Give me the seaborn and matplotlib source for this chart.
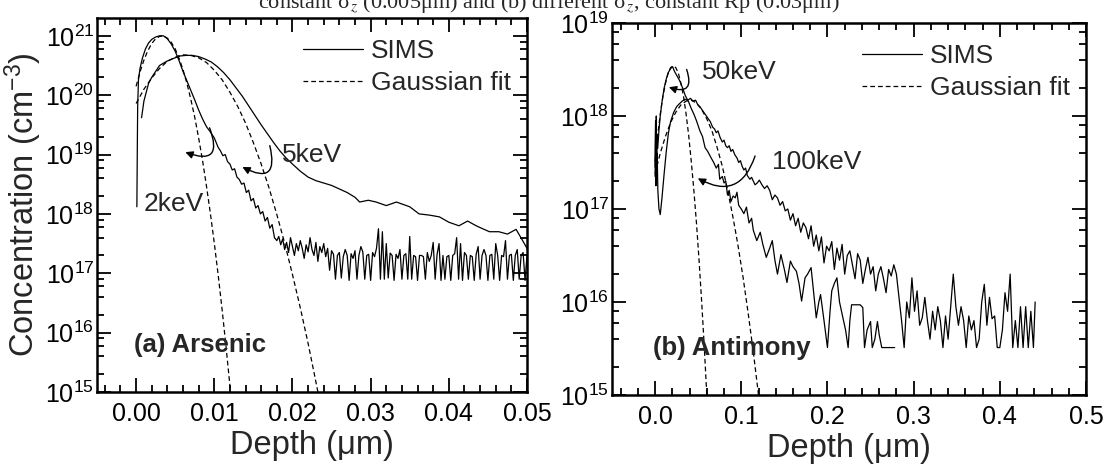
import numpy as np
import pandas as pd
import matplotlib
matplotlib.use("Agg")
import matplotlib.pyplot as plt
import seaborn as sns
from matplotlib.ticker import LogLocator, MultipleLocator, FormatStrFormatter, NullFormatter
from matplotlib.lines import Line2D

# ---------------- data (log10 of concentration, cm^-3) ----------------
# (a) Arsenic 2 keV SIMS: smooth part (depth um, log10 C)
as2_sims_main = [
    (0.0001, 18.12), (0.00015, 19.0), (0.0002, 19.8), (0.0003, 20.25), (0.0005, 20.45),
    (0.0008, 20.62), (0.0012, 20.78), (0.0016, 20.88), (0.002, 20.94), (0.0025, 20.98),
    (0.003, 21.0), (0.0035, 21.0), (0.004, 20.95), (0.0045, 20.86), (0.005, 20.74),
    (0.0055, 20.58), (0.006, 20.4), (0.0065, 20.24), (0.007, 20.08), (0.0075, 19.92),
    (0.008, 19.75), (0.0085, 19.6), (0.009, 19.47), (0.0095, 19.38), (0.010, 19.28),
    (0.0105, 19.12), (0.0108, 19.06), (0.0111, 18.98), (0.0114, 19.0), (0.0117, 18.88),
    (0.012, 18.84), (0.0123, 18.74), (0.0126, 18.76), (0.0129, 18.62), (0.0132, 18.58),
    (0.0135, 18.5), (0.0138, 18.52), (0.0141, 18.36), (0.0144, 18.4), (0.0147, 18.22),
    (0.015, 18.26), (0.0153, 18.1), (0.0156, 18.14), (0.0159, 18.0), (0.0162, 18.04),
    (0.0165, 17.88), (0.0168, 17.94), (0.0171, 17.76), (0.0174, 17.82), (0.0177, 17.6),
]
# 2 keV SIMS noise floor, sampled every 0.00025 um from 0.018 to 0.05
as2_floor_start, as2_floor_end = 0.018, 0.05
as2_floor_log = [
    17.55, 17.62, 17.48, 17.58, 17.4, 17.52, 17.35, 17.6, 17.45, 17.3,
    17.5, 17.38, 17.55, 17.42, 17.25, 17.48, 17.36, 17.6, 17.4, 17.3,
    17.52, 17.2, 17.45, 17.35, 17.5, 17.28, 17.42, 17.05, 17.38,
    17.32, 16.9, 17.3, 17.35, 16.92, 17.28, 17.4, 17.3, 16.88, 17.33,
    17.25, 17.38, 16.9, 17.3, 17.45, 17.36, 16.9, 17.3, 17.32, 16.88,
    17.35, 17.28, 17.42, 17.75, 16.9, 17.7, 16.9, 17.5, 16.92, 17.34,
    17.3, 16.88, 17.32, 17.25, 17.4, 16.9, 17.3, 17.33, 16.9, 17.62,
    16.9, 17.3, 17.28, 16.88, 17.3, 17.3, 17.28, 16.9, 17.35, 17.2,
    17.3, 17.52, 16.9, 17.32, 17.5, 16.88, 17.3, 16.9, 17.28, 17.3,
    16.88, 17.3, 17.33, 17.6, 16.9, 17.5, 16.88, 17.35, 17.3, 16.9,
    17.3, 17.28, 16.88, 17.32, 17.45, 16.9, 17.3, 17.4, 17.3, 16.88,
    17.3, 17.32, 16.9, 17.5, 17.3, 16.88, 17.3, 17.28, 17.55, 16.9,
    17.3, 17.32, 16.88, 17.3, 17.4, 16.9, 17.3, 17.35, 16.88, 17.3,
]
# (a) Arsenic 5 keV SIMS
as5_sims = [
    (0.0007, 19.62), (0.001, 19.9), (0.0016, 20.2), (0.002, 20.3), (0.0026, 20.42),
    (0.003, 20.5), (0.0039, 20.57), (0.0048, 20.62), (0.0056, 20.66), (0.0064, 20.67),
    (0.0072, 20.67), (0.008, 20.65), (0.0088, 20.61), (0.0096, 20.56), (0.0104, 20.48),
    (0.0112, 20.38), (0.012, 20.26), (0.0128, 20.12), (0.0136, 19.98), (0.0144, 19.82),
    (0.0152, 19.66), (0.016, 19.5), (0.0168, 19.35), (0.0176, 19.2), (0.0184, 19.06),
    (0.0192, 18.94), (0.02, 18.84), (0.021, 18.72), (0.022, 18.62), (0.023, 18.56),
    (0.024, 18.52), (0.025, 18.48), (0.026, 18.42), (0.027, 18.36), (0.028, 18.28),
    (0.0286, 18.2), (0.0297, 18.23), (0.0307, 18.2), (0.032, 18.14), (0.0333, 18.2),
    (0.035, 18.12), (0.0362, 18.0), (0.0375, 17.98), (0.0388, 17.95), (0.04, 17.86),
    (0.0413, 17.8), (0.0424, 17.88), (0.0435, 17.8), (0.0445, 17.74), (0.0452, 17.7),
    (0.0464, 17.7), (0.0475, 17.66), (0.0486, 17.74), (0.0494, 17.56), (0.05, 17.42),
]
# (a) Gaussian fits
as2_fit_x = [0.0, 0.0005, 0.001, 0.0015, 0.002, 0.0025, 0.003, 0.0035, 0.004, 0.0045,
             0.005, 0.0055, 0.006, 0.0065, 0.007, 0.0075, 0.008, 0.0085, 0.009, 0.0095,
             0.010, 0.0105, 0.011, 0.0115, 0.012, 0.0125]
as2_fit_log = [20.15, 20.39, 20.59, 20.75, 20.87, 20.95, 20.99, 21.0, 20.96, 20.89,
               20.78, 20.62, 20.43, 20.2, 19.93, 19.63, 19.28, 18.9, 18.47, 18.01,
               17.51, 16.97, 16.39, 15.77, 15.11, 14.41]
as5_fit_x = [0.0, 0.001, 0.002, 0.003, 0.004, 0.005, 0.006, 0.007, 0.008, 0.009,
             0.010, 0.011, 0.012, 0.013, 0.014, 0.015, 0.016, 0.017, 0.018, 0.019,
             0.020, 0.021, 0.022, 0.023, 0.024]
as5_fit_log = [19.86, 20.10, 20.29, 20.45, 20.57, 20.64, 20.68, 20.67, 20.63, 20.55,
               20.42, 20.26, 20.05, 19.81, 19.53, 19.20, 18.84, 18.44, 17.99, 17.51,
               16.98, 16.42, 15.82, 15.17, 14.5]

# (b) Antimony 50 keV SIMS
sb50_sims = [
    (0.0, 17.45), (0.0006, 17.95), (0.001, 17.3), (0.0014, 17.85), (0.0018, 17.55),
    (0.0024, 17.8), (0.003, 17.65), (0.0045, 17.85), (0.006, 18.0), (0.008, 18.15),
    (0.0105, 18.3), (0.013, 18.4), (0.0155, 18.47), (0.018, 18.51), (0.0203, 18.53),
    (0.0225, 18.48), (0.0255, 18.43), (0.0285, 18.38), (0.032, 18.3), (0.035, 18.22),
    (0.039, 18.15), (0.042, 18.08), (0.045, 18.02), (0.048, 17.95), (0.052, 17.84),
    (0.055, 17.78), (0.058, 17.66), (0.061, 17.62), (0.065, 17.55), (0.068, 17.5),
    (0.071, 17.44), (0.0735, 17.48), (0.075, 17.32), (0.078, 17.35), (0.08, 17.28),
    (0.082, 17.3), (0.084, 17.15), (0.086, 17.2), (0.088, 17.08), (0.0905, 17.14),
    (0.093, 17.12), (0.095, 17.18), (0.097, 17.04), (0.1, 17.0), (0.103, 16.95),
    (0.106, 17.02), (0.109, 16.85), (0.112, 16.9), (0.114, 16.77), (0.118, 16.66),
    (0.122, 16.75), (0.125, 16.62), (0.129, 16.48), (0.133, 16.58), (0.136, 16.66),
    (0.139, 16.45), (0.142, 16.3), (0.146, 16.51), (0.15, 16.35), (0.153, 16.21),
    (0.157, 16.44), (0.16, 16.38), (0.164, 16.33), (0.167, 16.2), (0.17, 16.01),
    (0.174, 16.26), (0.177, 16.3), (0.181, 16.37), (0.184, 16.1), (0.187, 15.83),
    (0.19, 16.0), (0.192, 16.08), (0.196, 15.8), (0.2, 15.51), (0.203, 15.9),
    (0.205, 16.12), (0.208, 16.2), (0.211, 16.26), (0.214, 16.0), (0.217, 15.87),
    (0.221, 15.7), (0.224, 15.51), (0.226, 15.8), (0.228, 15.97), (0.232, 15.97),
    (0.235, 15.97), (0.238, 15.97), (0.241, 15.94), (0.243, 15.51), (0.246, 15.7),
    (0.25, 15.79), (0.252, 15.51), (0.255, 15.6), (0.258, 15.79), (0.26, 15.65),
    (0.263, 15.51), (0.267, 15.51), (0.27, 15.51), (0.274, 15.51), (0.278, 15.51),
]
# (b) Antimony 100 keV SIMS
sb100_sims = [
    (0.0, 17.35), (0.0006, 17.95), (0.001, 17.25), (0.0014, 18.0), (0.0018, 17.4),
    (0.0024, 17.6), (0.0032, 17.2), (0.0045, 17.0), (0.006, 16.94), (0.008, 17.12),
    (0.0105, 17.38), (0.013, 17.62), (0.0155, 17.82), (0.018, 17.94), (0.0216, 18.04),
    (0.025, 18.1), (0.028, 18.13), (0.0315, 18.16), (0.0345, 18.18), (0.038, 18.17),
    (0.041, 18.19), (0.044, 18.16), (0.047, 18.17), (0.0496, 18.12), (0.052, 18.1),
    (0.055, 18.06), (0.058, 18.02), (0.061, 17.98), (0.064, 17.94), (0.0668, 17.88),
    (0.069, 17.86), (0.071, 17.82), (0.073, 17.84), (0.0754, 17.77), (0.078, 17.72),
    (0.08, 17.74), (0.082, 17.68), (0.084, 17.66), (0.086, 17.68), (0.088, 17.62),
    (0.09, 17.64), (0.0927, 17.58), (0.095, 17.55), (0.097, 17.5), (0.099, 17.52),
    (0.101, 17.46), (0.103, 17.42), (0.105, 17.44), (0.107, 17.36), (0.11, 17.32),
    (0.112, 17.34), (0.114, 17.3), (0.116, 17.26), (0.1185, 17.28), (0.121, 17.31),
    (0.124, 17.26), (0.127, 17.22), (0.13, 17.25), (0.133, 17.2), (0.136, 17.1),
    (0.139, 17.15), (0.142, 17.12), (0.145, 17.04), (0.148, 17.08), (0.151, 16.98),
    (0.154, 17.0), (0.157, 16.88), (0.16, 16.95), (0.163, 16.82), (0.166, 16.9),
    (0.169, 16.75), (0.172, 16.85), (0.175, 16.8), (0.178, 16.68), (0.181, 16.82),
    (0.184, 16.6), (0.187, 16.72), (0.19, 16.55), (0.193, 16.7), (0.196, 16.42),
    (0.199, 16.6), (0.202, 16.55), (0.205, 16.65), (0.208, 16.35), (0.211, 16.58),
    (0.214, 16.45), (0.217, 16.62), (0.22, 16.3), (0.223, 16.5), (0.226, 16.55),
    (0.229, 16.4), (0.232, 16.25), (0.235, 16.52), (0.238, 16.45), (0.241, 16.2),
    (0.244, 16.35), (0.247, 16.48), (0.25, 16.3), (0.253, 16.38), (0.256, 16.12),
    (0.259, 16.3), (0.262, 16.38), (0.265, 16.25), (0.268, 16.1), (0.271, 16.35),
    (0.274, 16.28), (0.277, 16.4), (0.28, 16.3), (0.283, 16.05), (0.286, 15.8),
    (0.289, 15.51), (0.292, 16.0), (0.295, 15.83), (0.298, 16.26), (0.301, 15.9),
    (0.304, 16.12), (0.307, 15.75), (0.31, 15.83), (0.313, 16.05), (0.316, 15.8),
    (0.319, 15.6), (0.322, 15.9), (0.325, 15.7), (0.328, 15.95), (0.331, 15.8),
    (0.334, 15.51), (0.337, 15.85), (0.34, 15.6), (0.343, 15.95), (0.346, 16.3),
    (0.349, 15.95), (0.352, 15.75), (0.355, 15.95), (0.358, 15.8), (0.361, 15.51),
    (0.364, 15.85), (0.367, 15.7), (0.37, 15.8), (0.373, 15.51), (0.376, 15.6),
    (0.379, 16.0), (0.382, 16.19), (0.385, 15.75), (0.388, 16.05), (0.391, 15.82),
    (0.394, 15.85), (0.397, 15.51), (0.4, 15.51), (0.403, 15.7), (0.406, 16.1),
    (0.409, 15.9), (0.412, 16.3), (0.415, 15.51), (0.418, 15.8), (0.421, 15.51),
    (0.424, 15.95), (0.427, 15.51), (0.43, 15.95), (0.433, 15.51), (0.436, 15.9),
    (0.439, 15.51), (0.441, 16.0),
]
# (b) Gaussian fits
sb50_fit_x = [0.0, 0.003, 0.006, 0.009, 0.012, 0.015, 0.018, 0.021, 0.024, 0.027,
              0.030, 0.033, 0.036, 0.039, 0.042, 0.045, 0.048, 0.051, 0.054, 0.057,
              0.060, 0.063]
sb50_fit_log = [17.51, 17.79, 18.02, 18.21, 18.35, 18.46, 18.52, 18.54, 18.52, 18.46,
                18.35, 18.21, 18.02, 17.79, 17.51, 17.2, 16.85, 16.45, 16.01, 15.53,
                15.0, 14.44]
sb100_fit_x = [0.0, 0.006, 0.012, 0.018, 0.024, 0.030, 0.036, 0.042, 0.048, 0.054,
               0.060, 0.066, 0.072, 0.078, 0.084, 0.090, 0.096, 0.102, 0.108, 0.114,
               0.120, 0.126]
sb100_fit_log = [17.38, 17.6, 17.78, 17.93, 18.04, 18.12, 18.16, 18.17, 18.14, 18.07,
                 17.97, 17.84, 17.66, 17.46, 17.21, 16.93, 16.62, 16.27, 15.88, 15.46,
                 15.0, 14.51]

legend_labels = ["SIMS", "Gaussian fit"]
title_text = ("constant σ$_{z}$ (0.005μm) and (b) different σ$_{z}$, "
              "constant Rp (0.03μm)")

# ---------------- style ----------------
sns.set_theme(style="ticks")
plt.rcParams["font.family"] = ["Liberation Sans", "DejaVu Sans"]
plt.rcParams["mathtext.fontset"] = "custom"
plt.rcParams["mathtext.rm"] = "Liberation Sans"
plt.rcParams["mathtext.it"] = "Liberation Sans:italic"
plt.rcParams["mathtext.bf"] = "Liberation Sans:bold"
plt.rcParams["axes.linewidth"] = 1.8

W, H = 1110, 468
fig = plt.figure(figsize=(W / 100, H / 100), dpi=100)
fig.patch.set_facecolor("white")


def ax_rect(l, t, r, b):
    return [l / W, 1 - b / H, (r - l) / W, (b - t) / H]


axA = fig.add_axes(ax_rect(97, 18, 527, 392))
axB = fig.add_axes(ax_rect(612, 23, 1086, 395))

LW = 0.9
DASH = (3.8, 2.4)


def pairs_df(pairs):
    d = pd.DataFrame(pairs, columns=["depth", "logc"])
    d["conc"] = 10 ** d["logc"]
    return d


def line(ax, x, y, dashed=False):
    sns.lineplot(x=x, y=y, ax=ax, color="black", lw=LW, estimator=None,
                 sort=False, legend=False,
                 **({"linestyle": (0, DASH)} if dashed else {}))


# (a)
d = pairs_df(as2_sims_main)
line(axA, d["depth"], d["conc"])
fx = np.linspace(as2_floor_start, as2_floor_end, len(as2_floor_log))
floor = pd.DataFrame({"depth": np.r_[d["depth"].iloc[-1], fx],
                      "conc": 10 ** np.r_[d["logc"].iloc[-1], as2_floor_log]})
line(axA, floor["depth"], floor["conc"])
d = pairs_df(as5_sims)
line(axA, d["depth"], d["conc"])
line(axA, as2_fit_x, 10 ** np.array(as2_fit_log), dashed=True)
line(axA, as5_fit_x, 10 ** np.array(as5_fit_log), dashed=True)

# (b)
d = pairs_df(sb50_sims)
line(axB, d["depth"], d["conc"])
d = pairs_df(sb100_sims)
line(axB, d["depth"], d["conc"])
line(axB, sb50_fit_x, 10 ** np.array(sb50_fit_log), dashed=True)
line(axB, sb100_fit_x, 10 ** np.array(sb100_fit_log), dashed=True)

TICK_FS = 18
LABEL_FS = 23.5


def style(ax, xlim, ylim, major, minor, fmt):
    ax.set_yscale("log")
    ax.set_xlim(*xlim)
    ax.set_ylim(*ylim)
    ax.xaxis.set_major_locator(MultipleLocator(major))
    ax.xaxis.set_minor_locator(MultipleLocator(minor))
    ax.xaxis.set_major_formatter(FormatStrFormatter(fmt))
    ax.yaxis.set_major_locator(LogLocator(base=10, numticks=20))
    ax.yaxis.set_minor_locator(LogLocator(base=10, subs=(2, 4, 6, 8), numticks=20))
    ax.yaxis.set_minor_formatter(NullFormatter())
    ax.tick_params(which="both", direction="in", top=True, right=True,
                   width=1.3, colors="black", labelsize=TICK_FS)
    ax.tick_params(axis="x", which="major", pad=7)
    ax.tick_params(axis="y", which="major", pad=2)
    ax.tick_params(which="major", length=10)
    ax.tick_params(which="minor", length=5)
    for s in ax.spines.values():
        s.set_visible(True)
        s.set_linewidth(1.8)
        s.set_color("black")
    ax.set_xlabel("Depth (μm)", fontsize=LABEL_FS, labelpad=3)
    ax.set_facecolor("white")
    ax.grid(False)


style(axA, (-0.005, 0.05), (1e15, 10 ** 21.3), 0.01, 0.002, "%.2f")
style(axB, (-0.05, 0.5), (1e15, 1e19), 0.1, 0.02, "%.1f")
axA.set_ylabel("Concentration (cm$^{-3}$)", fontsize=LABEL_FS, labelpad=1)
axB.set_ylabel("")

# legends
handles = [Line2D([], [], color="black", lw=LW),
           Line2D([], [], color="black", lw=LW, linestyle=(0, DASH))]
for ax in (axA, axB):
    ax.legend(handles=handles, labels=legend_labels, loc="upper right",
              frameon=False, fontsize=19, handlelength=2.3, handletextpad=0.3,
              labelspacing=0.3, borderaxespad=0.2, bbox_to_anchor=(1.0, 0.985))

# annotations
TXT_FS = 19
axA.text(0.0009, 10 ** 18.16, "2keV", fontsize=TXT_FS, ha="left", va="center")
axA.text(0.0186, 10 ** 19.0, "5keV", fontsize=TXT_FS, ha="left", va="center")
axA.text(-0.0003, 10 ** 15.8, "(a) Arsenic", fontsize=18.5, fontweight="bold",
         ha="left", va="center")
axB.text(0.054, 10 ** 18.47, "50keV", fontsize=TXT_FS, ha="left", va="center")
axB.text(0.136, 10 ** 17.51, "100keV", fontsize=TXT_FS, ha="left", va="center")
axB.text(-0.002, 10 ** 15.51, "(b) Antimony", fontsize=18.5, fontweight="bold",
         ha="left", va="center")

arrow_kw = dict(arrowstyle="-|>", color="black", lw=1.0, mutation_scale=11,
                shrinkA=0, shrinkB=0)
axA.annotate("", xy=(0.0063, 10 ** 19.04), xytext=(0.0094, 10 ** 19.45),
             arrowprops=dict(connectionstyle="arc3,rad=-1.1", **arrow_kw))
axA.annotate("", xy=(0.0136, 10 ** 18.79), xytext=(0.0171, 10 ** 19.15),
             arrowprops=dict(connectionstyle="arc3,rad=-1.1", **arrow_kw))
axB.annotate("", xy=(0.016, 10 ** 18.31), xytext=(0.0366, 10 ** 18.5),
             arrowprops=dict(connectionstyle="arc3,rad=-1.0", **arrow_kw))
axB.annotate("", xy=(0.0496, 10 ** 17.33), xytext=(0.116, 10 ** 17.57),
             arrowprops=dict(connectionstyle="arc3,rad=-0.6", **arrow_kw))

# clipped caption line at the very top
fig.text(549 / W, 1 - 8 / H, title_text, fontsize=16, ha="center", va="baseline",
         family="Liberation Serif", math_fontfamily="stix")

fig.savefig("out.png", dpi=100, facecolor="white")
